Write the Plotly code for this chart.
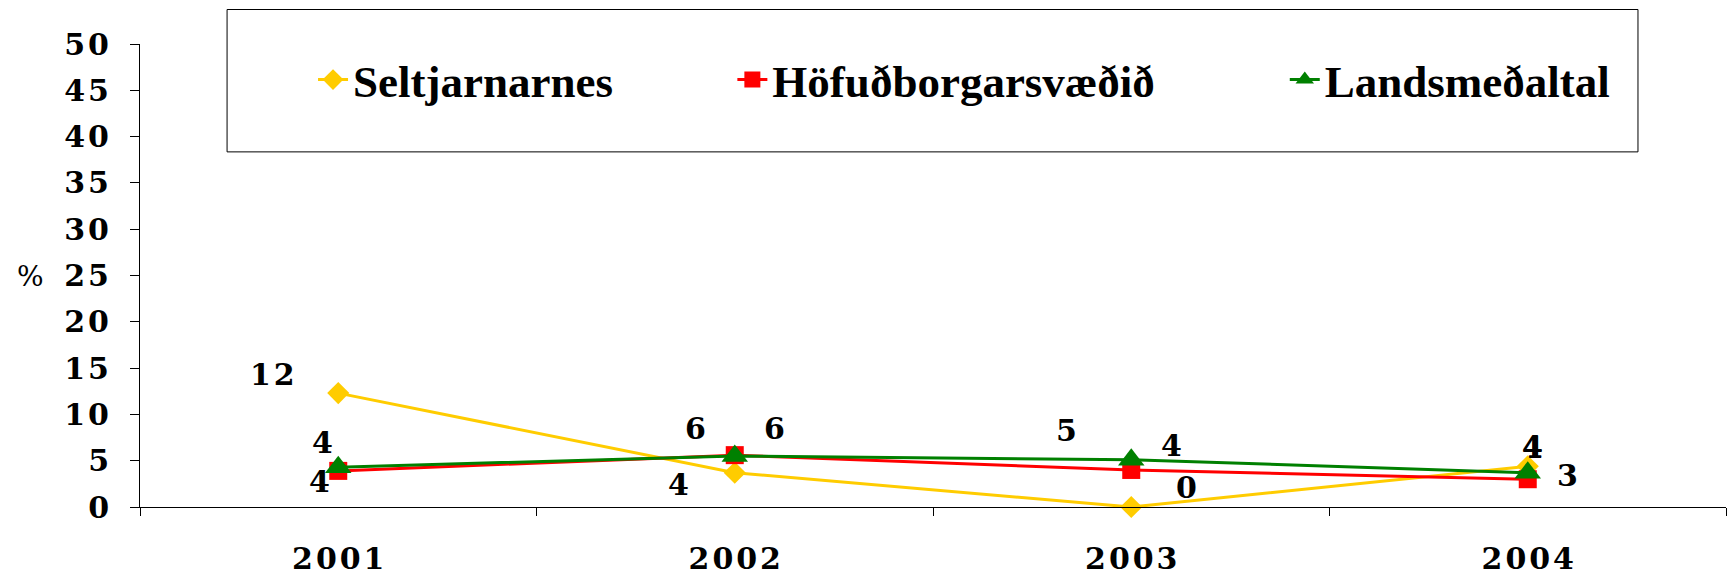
import plotly.graph_objects as go

# data
years = ["2001", "2002", "2003", "2004"]
seltjarnarnes = [12.3, 3.7, 0.0, 4.4]
hofudborgarsvaedid = [3.9, 5.6, 4.0, 3.0]
landsmedaltal = [4.3, 5.5, 5.1, 3.7]
seltjarnarnes_labels = ["12", "4", "0", "4"]
hofudborgarsvaedid_labels = ["4", "6", "4", "3"]
landsmedaltal_labels = ["4", "6", "5", "4"]
y_ticks = [0, 5, 10, 15, 20, 25, 30, 35, 40, 45, 50]

SP = "\u200a"  # the original digits are letter-spaced a little
TICK_FONT = dict(family="DejaVu Serif", size=30, color="black", weight="bold")


def spaced(s):
    return SP.join(s)


series = [
    # name, values, labels, colour, symbol, size, legend, legend x, label offsets (px)
    ("Seltjarnarnes", seltjarnarnes, seltjarnarnes_labels, "#FFCC00", "diamond", 17,
     "legend", 0.1091, [(-66, 19), (-56, -12), (55, 20), (5, 19)]),
    ("Höfuðborgarsvæðið", hofudborgarsvaedid, hofudborgarsvaedid_labels, "#FF0000", "square", 18,
     "legend2", 0.3735, [(-19, -11), (-39, 27), (40, 24), (40, 4)]),
    ("Landsmeðaltal", landsmedaltal, landsmedaltal_labels, "#008000", "triangle-up", 23,
     "legend3", 0.7218, [(-16, 25), (40, 28), (-65, 29), (5, 26)]),
]

fig = go.Figure()
annotations = []
legends = {}
for name, vals, labels, color, symbol, msize, leg, legx, offsets in series:
    fig.add_trace(go.Scatter(
        x=years, y=vals, name=name, mode="lines+markers",
        line=dict(color=color, width=3),
        marker=dict(color=color, symbol=symbol, size=msize),
        cliponaxis=False, legend=leg,
    ))
    legends[leg] = dict(
        x=legx, y=0.9227, xanchor="left", yanchor="middle",
        bgcolor="rgba(0,0,0,0)", borderwidth=0,
        font=dict(family="Liberation Serif", size=45, color="black", weight="bold"),
        itemsizing="trace",
    )
    # category index as x: numeric-looking names are read as positions
    for i, (v, lab, (dx, dy)) in enumerate(zip(vals, labels, offsets)):
        annotations.append(dict(
            x=i, y=v, text=spaced(lab), showarrow=False,
            xshift=dx, yshift=dy, font=TICK_FONT,
        ))

annotations.append(dict(
    x=-0.069, y=0.498, xref="paper", yref="paper", text="%", showarrow=False,
    xanchor="center", yanchor="middle",
    font=dict(family="DejaVu Serif", size=28, color="black"),
))

fig.update_layout(
    width=1727, height=577,
    margin=dict(l=140, r=1, t=44, b=67),
    paper_bgcolor="white", plot_bgcolor="white",
    showlegend=True,
    annotations=annotations,
    shapes=[dict(type="rect", xref="paper", yref="paper",
                 x0=0.0549, x1=0.9445, y0=0.767, y1=1.0745,
                 line=dict(color="black", width=1), fillcolor="rgba(0,0,0,0)")],
    **legends,
)

fig.update_xaxes(
    type="category", range=[-0.5, 3.5], tickson="boundaries",
    tickvals=years, ticktext=[spaced(y) for y in years],
    ticks="outside", ticklen=8, tickcolor="black",
    showline=True, linecolor="black", linewidth=1, showgrid=False,
    tickfont=TICK_FONT, ticklabelstandoff=25,
)
fig.update_yaxes(
    range=[0, 50], tickvals=y_ticks, ticktext=[spaced(str(t)) for t in y_ticks],
    ticks="outside", ticklen=9, tickcolor="black",
    showline=True, linecolor="black", linewidth=1,
    showgrid=False, zeroline=False,
    tickfont=TICK_FONT, ticklabelstandoff=15,
)

# the page body has an 8px default margin; drop it so the figure fills the window
fig.write_html("out.html", config={"displayModeBar": False},
               post_script="document.body.style.margin='0px';")
